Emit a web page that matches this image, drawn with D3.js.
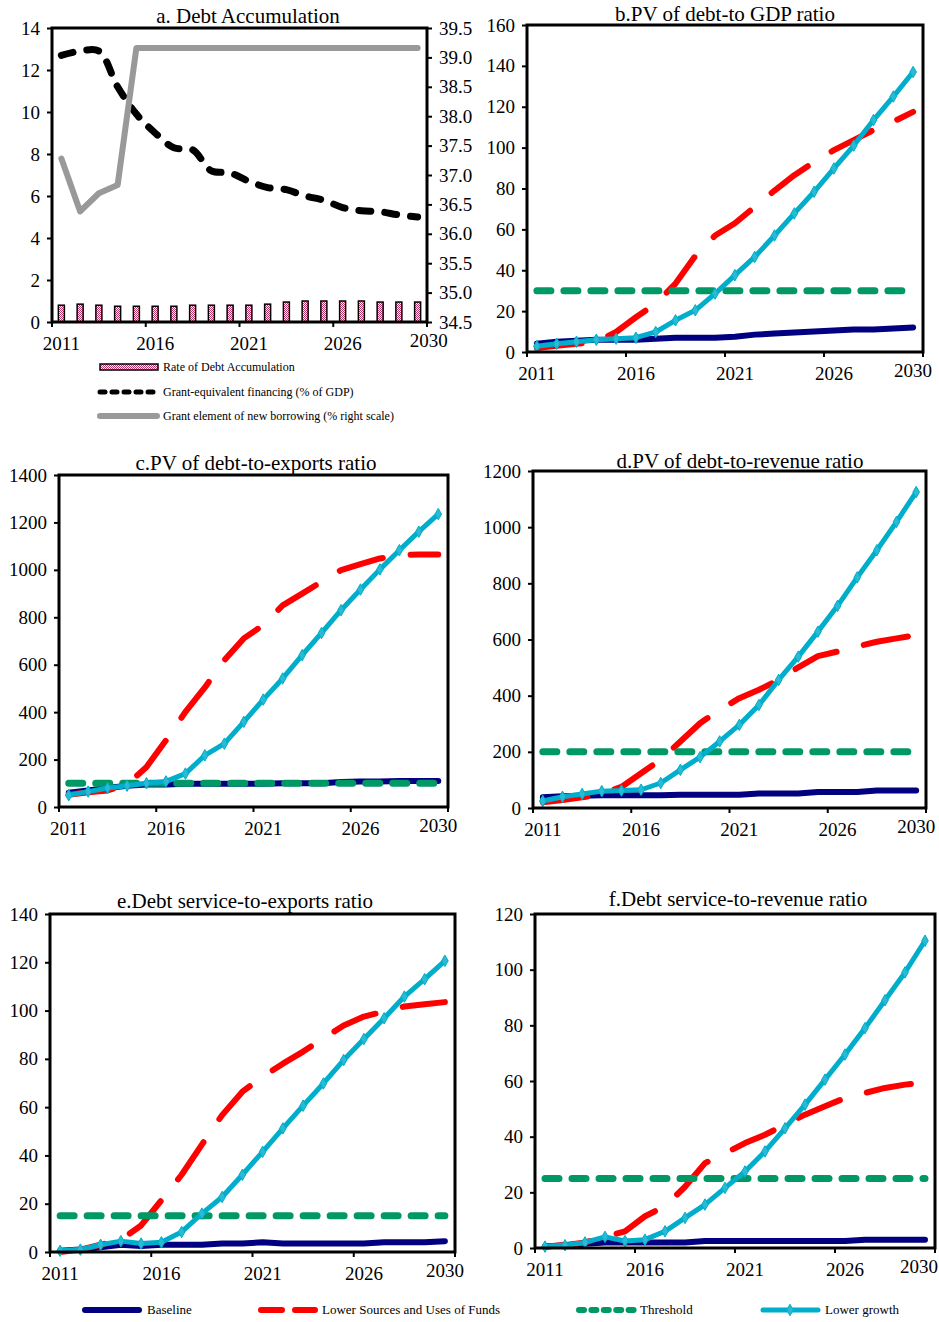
<!DOCTYPE html>
<html>
<head>
<meta charset="utf-8">
<script src="https://cdn.jsdelivr.net/npm/d3@7"></script>
<style>
body { margin: 0; background: #fff; }
svg text { font-family: "Liberation Serif", "Times New Roman", serif; fill: #000; }
</style>
</head>
<body>
<div id="chart"></div>
<script>
// categories
var years = ["2011","2012","2013","2014","2015","2016","2017","2018","2019","2020",
             "2021","2022","2023","2024","2025","2026","2027","2028","2029","2030"];
var xTickLabels = ["2011","2016","2021","2026","2030"];

// a. Debt Accumulation
var aRateOfDebtAccumulation = [0.8,0.85,0.8,0.75,0.75,0.75,0.75,0.8,0.8,0.8,0.8,0.85,0.95,1.0,1.0,1.0,1.0,0.95,0.95,0.95];
var aGrantEquivalentFinancing = [12.7,12.9,12.9,11.2,9.9,9.0,8.3,8.2,7.2,7.1,6.7,6.4,6.3,6.0,5.8,5.45,5.3,5.25,5.1,5.0];
var aGrantElement = [37.28,36.38,36.69,36.83,39.16,39.16,39.16,39.16,39.16,39.16,39.16,39.16,39.16,39.16,39.16,39.16,39.16,39.16,39.16,39.16];
var aLeftTicks = [0,2,4,6,8,10,12,14];
var aRightTicks = [34.5,35.0,35.5,36.0,36.5,37.0,37.5,38.0,38.5,39.0,39.5];

// b. PV of debt-to GDP ratio
var bBaseline = [4,5,5.5,6,6,6,6.5,7,7,7,7.5,8.5,9,9.5,10,10.5,11,11,11.5,12];
var bLowerSources = [2,3,4,5,9.8,17,23.7,33.5,47,57,63,71,79,86.5,93,98.8,103.7,108.6,112.7,117.5];
var bThreshold = [30,30,30,30,30,30,30,30,30,30,30,30,30,30,30,30,30,30,30,30];
var bLowerGrowth = [2.8,4,5,6,6.5,7,9.8,15.5,20.4,28.6,37.6,46.5,57,67.8,78.4,89.8,101,113.5,125,137];
var bTicks = [0,20,40,60,80,100,120,140,160];

// c. PV of debt-to-exports ratio
var cBaseline = [60,70,80,90,95,95,98,98,98,98,98,100,100,100,105,108,108,110,110,110];
var cLowerSources = [52,62,70,95,169,281,401,504,619,711,767,850,900,950,999,1024,1048,1062,1065,1065];
var cThreshold = [100,100,100,100,100,100,100,100,100,100,100,100,100,100,100,100,100,100,100,100];
var cLowerGrowth = [50,65,80,90,100,108,141,218,267,359,453,542,640,734,830,917,1002,1083,1161,1235];
var cTicks = [0,200,400,600,800,1000,1200,1400];

// d. PV of debt-to-revenue ratio
var dBaseline = [38,42,44,45,45,45,45,47,47,47,47,52,52,52,57,57,57,62,62,62];
var dLowerSources = [20,28,38,50,75,124,172,237,302,349,391,421,456,501,541,557,575,592,604,616];
var dThreshold = [200,200,200,200,200,200,200,200,200,200,200,200,200,200,200,200,200,200,200,200];
var dLowerGrowth = [25,40,50,60,62,65,89,136,181,237,296,367,456,539,628,720,821,918,1019,1125];
var dTicks = [0,200,400,600,800,1000,1200];

// e. Debt service-to-exports ratio
var eBaseline = [0.5,1,2,3,2.5,3,3,3,3.5,3.5,4,3.5,3.5,3.5,3.5,3.5,4,4,4,4.5];
var eLowerSources = [0,1,3,5,11,21.4,32,44.5,56.7,66.4,72.6,78,83,88.5,93.8,97.5,99.6,101.7,102.6,103.5];
var eThreshold = [15,15,15,15,15,15,15,15,15,15,15,15,15,15,15,15,15,15,15,15];
var eLowerGrowth = [0.5,1,3,4.5,3.5,4,8.3,15.9,22.8,32,41.5,51.2,60.6,69.8,79.5,88.2,96.8,105.8,113,120.6];
var eTicks = [0,20,40,60,80,100,120,140];

// f. Debt service-to-revenue ratio
var fBaseline = [0.5,1,1.5,2,2,2,2,2,2.5,2.5,2.5,2.5,2.5,2.5,2.5,2.5,3,3,3,3];
var fLowerSources = [0.5,1,2,4,6,11.4,15,22,30.5,34,37.7,40.7,44.3,47.9,50.9,53.9,55.7,57.5,58.7,59.5];
var fThreshold = [25,25,25,25,25,25,25,25,25,25,25,25,25,25,25,25,25,25,25,25];
var fLowerGrowth = [0.5,1,2,4,2.5,3,6,10.8,15.6,21.6,27.5,34.7,43,51.5,60.5,69.5,79,89,99,110.4];
var fTicks = [0,20,40,60,80,100,120];

var width = 939;
var height = 1322;

var svg = d3.select("#chart")
    .append("svg")
    .attr("width", width)
    .attr("height", height);

// checkered pink fill for the bars
var pat = svg.append("defs").append("pattern")
    .attr("id", "checker")
    .attr("width", 2).attr("height", 2)
    .attr("patternUnits", "userSpaceOnUse");
pat.append("rect").attr("width", 2).attr("height", 2).attr("fill", "#fff");
pat.append("rect").attr("width", 1).attr("height", 1).attr("fill", "#c2306c");
pat.append("rect").attr("x", 1).attr("y", 1).attr("width", 1).attr("height", 1).attr("fill", "#c2306c");

var styles = {
    baseline:  { color: "#000080", width: 6, dash: null },
    lower:     { color: "#ff0000", width: 6, dash: "45,28" },
    threshold: { color: "#009966", width: 7, dash: "14,13" },
    growth:    { color: "#00aecb", width: 5, dash: null }
};

// draws frame, axes and x labels; returns scales
function drawFrame(p) {
    var x = d3.scaleBand().domain(years).range([p.x0, p.x1]);
    var y = d3.scaleLinear().domain([0, p.max]).range([p.yb, p.yt]);
    var bw = x.bandwidth();

    // left axis
    var ax = svg.append("g")
        .attr("transform", "translate(" + p.x0 + ",0)")
        .call(d3.axisLeft(y).tickValues(p.ticks).tickSize(5).tickPadding(7).tickFormat(d3.format("d")));
    ax.select(".domain").remove();
    ax.selectAll(".tick line").attr("stroke", "#000").attr("stroke-width", 2);
    ax.selectAll(".tick text").style("font-size", "19px");

    // x tick marks every 5 years
    var tickPos = [x(years[0]), x(years[5]), x(years[10]), x(years[15]), p.x1];
    svg.selectAll(null)
        .data(tickPos)
        .enter()
        .append("line")
        .attr("x1", function (d) { return d; })
        .attr("x2", function (d) { return d; })
        .attr("y1", p.yb)
        .attr("y2", p.yb + 5)
        .attr("stroke", "#000")
        .attr("stroke-width", 2);

    var last = xTickLabels.length - 1;
    svg.selectAll(null)
        .data(xTickLabels)
        .enter()
        .append("text")
        .attr("x", function (d, i) {
            var cx = x(d) + bw / 2 + (i == last ? p.lastDx : 0);
            return Math.min(cx, width - 20);   // keep last label inside the page
        })
        .attr("y", function (d, i) { return p.yb + 28 - (i == last ? 3 : 0); })
        .attr("text-anchor", "middle")
        .style("font-size", "19px")
        .text(function (d) { return d; });

    // title
    svg.append("text")
        .attr("x", p.tx)
        .attr("y", p.ty)
        .attr("text-anchor", "middle")
        .style("font-size", "21px")
        .text(p.title);

    return { x: x, y: y, bw: bw };
}

function drawBox(p) {
    svg.append("rect")
        .attr("x", p.x0).attr("y", p.yt)
        .attr("width", p.x1 - p.x0).attr("height", p.yb - p.yt)
        .attr("fill", "none")
        .attr("stroke", "#000")
        .attr("stroke-width", 3);
}

function drawSeries(s, values, st) {
    var line = d3.line()
        .x(function (d, i) { return s.x(years[i]) + s.bw / 2; })
        .y(function (d) { return s.y(d); });
    svg.append("path")
        .datum(values)
        .attr("d", line)
        .attr("fill", "none")
        .attr("stroke", st.color)
        .attr("stroke-width", st.width)
        .attr("stroke-linecap", "round")
        .attr("stroke-linejoin", "round")
        .attr("stroke-dasharray", st.dash);
}

function drawPanel(p) {
    var s = drawFrame(p);
    drawSeries(s, p.baseline, styles.baseline);
    drawSeries(s, p.lower, styles.lower);
    drawSeries(s, p.threshold, styles.threshold);
    drawSeries(s, p.growth, styles.growth);
    // diamond markers on lower growth
    svg.selectAll(null)
        .data(p.growth)
        .enter()
        .append("path")
        .attr("d", d3.symbol().type(d3.symbolDiamond).size(38))
        .attr("transform", function (d, i) {
            return "translate(" + (s.x(years[i]) + s.bw / 2) + "," + s.y(d) + ")";
        })
        .attr("fill", "#2bbad3")
        .attr("stroke", styles.growth.color)
        .attr("stroke-width", 1);
    drawBox(p);
}

// ---- panel a ----
var pa = { x0: 52, x1: 427, yt: 28, yb: 322, max: 14, ticks: aLeftTicks, lastDx: 11,
           title: "a. Debt Accumulation", tx: 248, ty: 23 };
var sa = drawFrame(pa);
var yRight = d3.scaleLinear().domain([34.5, 39.5]).range([pa.yb, pa.yt]);
var axR = svg.append("g")
    .attr("transform", "translate(" + pa.x1 + ",0)")
    .call(d3.axisRight(yRight).tickValues(aRightTicks).tickSize(5).tickPadding(7).tickFormat(d3.format(".1f")));
axR.select(".domain").remove();
axR.selectAll(".tick line").attr("stroke", "#000").attr("stroke-width", 2);
axR.selectAll(".tick text").style("font-size", "19px");

svg.selectAll(null)
    .data(aRateOfDebtAccumulation)
    .enter()
    .append("rect")
    .attr("x", function (d, i) { return sa.x(years[i]) + sa.bw / 2 - 3; })
    .attr("y", function (d) { return sa.y(d); })
    .attr("width", 6)
    .attr("height", function (d) { return sa.y(0) - sa.y(d); })
    .attr("fill", "url(#checker)")
    .attr("stroke", "#000")
    .attr("stroke-width", 1.5);

svg.append("path")
    .datum(aGrantEquivalentFinancing)
    .attr("d", d3.line()
        .curve(d3.curveCatmullRom.alpha(0.5))
        .x(function (d, i) { return sa.x(years[i]) + sa.bw / 2; })
        .y(function (d) { return sa.y(d); }))
    .attr("fill", "none")
    .attr("stroke", "#000")
    .attr("stroke-width", 7)
    .attr("stroke-linecap", "round")
    .attr("stroke-dasharray", "12,14");

svg.append("path")
    .datum(aGrantElement)
    .attr("d", d3.line()
        .x(function (d, i) { return sa.x(years[i]) + sa.bw / 2; })
        .y(function (d) { return yRight(d); }))
    .attr("fill", "none")
    .attr("stroke", "#999999")
    .attr("stroke-width", 6)
    .attr("stroke-linejoin", "round")
    .attr("stroke-linecap", "round");
drawBox(pa);

// legend of panel a
var legA = svg.append("g");
legA.append("rect").attr("x", 100).attr("y", 364).attr("width", 58).attr("height", 6)
    .attr("fill", "url(#checker)").attr("stroke", "#000").attr("stroke-width", 1.5);
legA.append("line").attr("x1", 100).attr("x2", 157).attr("y1", 392).attr("y2", 392)
    .attr("stroke", "#000").attr("stroke-width", 5).attr("stroke-linecap", "round").attr("stroke-dasharray", "5,7");
legA.append("line").attr("x1", 100).attr("x2", 157).attr("y1", 416).attr("y2", 416)
    .attr("stroke", "#999999").attr("stroke-width", 6).attr("stroke-linecap", "round");
var legAText = ["Rate of Debt Accumulation", "Grant-equivalent financing (% of GDP)", "Grant element of new borrowing (% right scale)"];
legA.selectAll("text")
    .data(legAText)
    .enter()
    .append("text")
    .attr("x", 163)
    .attr("y", function (d, i) { return 371 + i * 24.5; })
    .style("font-size", "12px")
    .text(function (d) { return d; });

// ---- panels b-f ----
drawPanel({ x0: 527, x1: 923, yt: 25, yb: 352, max: 160, ticks: bTicks, lastDx: 0,
            title: "b.PV of debt-to GDP  ratio", tx: 725, ty: 21,
            baseline: bBaseline, lower: bLowerSources, threshold: bThreshold, growth: bLowerGrowth });
drawPanel({ x0: 59, x1: 448, yt: 475, yb: 807, max: 1400, ticks: cTicks, lastDx: 0,
            title: "c.PV of debt-to-exports ratio", tx: 256, ty: 470,
            baseline: cBaseline, lower: cLowerSources, threshold: cThreshold, growth: cLowerGrowth });
drawPanel({ x0: 533, x1: 926, yt: 471, yb: 808, max: 1200, ticks: dTicks, lastDx: 0,
            title: "d.PV of debt-to-revenue ratio", tx: 740, ty: 468,
            baseline: dBaseline, lower: dLowerSources, threshold: dThreshold, growth: dLowerGrowth });
drawPanel({ x0: 50, x1: 455, yt: 914, yb: 1252, max: 140, ticks: eTicks, lastDx: 0,
            title: "e.Debt service-to-exports ratio", tx: 245, ty: 908,
            baseline: eBaseline, lower: eLowerSources, threshold: eThreshold, growth: eLowerGrowth });
drawPanel({ x0: 535, x1: 935, yt: 914, yb: 1248, max: 120, ticks: fTicks, lastDx: 0,
            title: "f.Debt service-to-revenue ratio", tx: 738, ty: 906,
            baseline: fBaseline, lower: fLowerSources, threshold: fThreshold, growth: fLowerGrowth });

// bottom legend
var legendNames = ["Baseline", "Lower Sources and Uses of Funds", "Threshold", "Lower growth"];
var legendX = [83, 258, 576, 761];
var leg = svg.append("g");
leg.append("line").attr("x1", 85).attr("x2", 139).attr("y1", 1310).attr("y2", 1310)
    .attr("stroke", styles.baseline.color).attr("stroke-width", 6).attr("stroke-linecap", "round");
leg.append("line").attr("x1", 261).attr("x2", 315).attr("y1", 1310).attr("y2", 1310)
    .attr("stroke", styles.lower.color).attr("stroke-width", 6).attr("stroke-linecap", "round").attr("stroke-dasharray", "21,13");
leg.append("line").attr("x1", 579).attr("x2", 634).attr("y1", 1310).attr("y2", 1310)
    .attr("stroke", styles.threshold.color).attr("stroke-width", 6).attr("stroke-linecap", "round").attr("stroke-dasharray", "5,7.4");
leg.append("line").attr("x1", 763).attr("x2", 818).attr("y1", 1310).attr("y2", 1310)
    .attr("stroke", styles.growth.color).attr("stroke-width", 5).attr("stroke-linecap", "round");
leg.append("path")
    .attr("d", d3.symbol().type(d3.symbolDiamond).size(38))
    .attr("transform", "translate(790,1310)")
    .attr("fill", "#2bbad3").attr("stroke", styles.growth.color);
leg.selectAll("text")
    .data(legendNames)
    .enter()
    .append("text")
    .attr("x", function (d, i) { return legendX[i] + 64; })
    .attr("y", 1314)
    .style("font-size", "13px")
    .text(function (d) { return d; });
</script>
</body>
</html>
